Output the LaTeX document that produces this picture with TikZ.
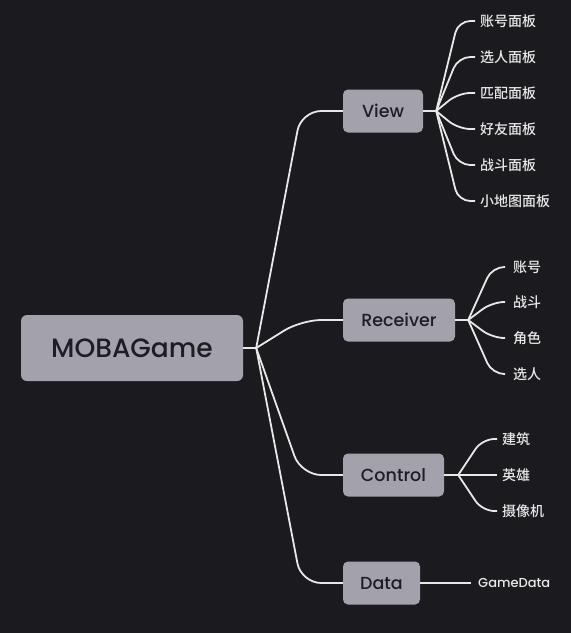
\documentclass[tikz,border=0pt]{standalone}
\usepackage{fontspec}
\setmainfont{Poppins}[UprightFont=* Medium]
\newfontfamily\cjk{Noto Sans CJK SC}[UprightFont=* Medium]
\usetikzlibrary{calc}

\definecolor{canvas}{HTML}{1B1A1F}
\definecolor{topicfill}{HTML}{A3A2AC}
\definecolor{topicink}{HTML}{1E1D24}
\definecolor{wire}{HTML}{E8E8E8}

\begin{document}
\begin{tikzpicture}[x=1pt, y=-1pt,
  every node/.style={inner sep=0pt},
  topic/.style={fill=topicfill, text=topicink, rounded corners=5pt, minimum height=43pt, font=\fontsize{17.5}{20}\selectfont},
  leaf/.style={text=wire, anchor=west, font=\cjk\fontsize{14}{16}\selectfont},
  link/.style={draw=wire, line width=1.8pt, rounded corners=20pt},
  twig/.style={draw=wire, line width=1.8pt, rounded corners=12pt}]
  \fill[canvas] (0,0) rectangle (571,633);
  \useasboundingbox (0,0) rectangle (571,633);

  % central topic and main branches
  \node[topic, minimum width=222pt, minimum height=66pt, rounded corners=6pt, font=\fontsize{26.5}{30}\selectfont] (game) at (132,348) {MOBAGame};
  \node[topic, minimum width=80pt] (view) at (383,111) {View};
  \node[topic, minimum width=112pt] (receiver) at (399,320) {Receiver};
  \node[topic, minimum width=101pt] (control) at (393.5,475) {Control};
  \node[topic, minimum width=77pt] (data) at (381.5,583) {Data};

  \coordinate (hub) at ($(game.east)+(13,0)$);
  \draw[link] (game.east) -- (hub);
  \foreach \t in {view,receiver,control,data}
    \draw[link] (hub) -- ($(\t.west -| hub)+(45,0)$) -- (\t.west);

  % View panels
  \coordinate (viewhub) at ($(view.east)+(13,0)$);
  \draw[twig] (view.east) -- (viewhub);
  \foreach \name/\txt/\y in {vacc/账号面板/21, vpick/选人面板/57, vmatch/匹配面板/93,
                             vfriend/好友面板/129, vbattle/战斗面板/165, vmap/小地图面板/201}
  {
    \node[leaf] (\name) at (480,\y) {\txt};
    \draw[twig] (viewhub) -- ($(\name.west -| viewhub)+(22,0)$) -- ($(\name.west)+(-5,0)$);
  }

  % Receiver items
  \coordinate (recvhub) at ($(receiver.east)+(13,0)$);
  \draw[twig] (receiver.east) -- (recvhub);
  \foreach \name/\txt/\y in {racc/账号/267, rbattle/战斗/302, rrole/角色/338, rpick/选人/374}
  {
    \node[leaf] (\name) at (513,\y) {\txt};
    \draw[twig] (recvhub) -- ($(\name.west -| recvhub)+(24,0)$) -- ($(\name.west)+(-8,0)$);
  }

  % Control items
  \coordinate (ctrlhub) at ($(control.east)+(14,0)$);
  \draw[twig] (control.east) -- (ctrlhub);
  \foreach \name/\txt/\y in {cbuild/建筑/439, chero/英雄/475, ccam/摄像机/511}
  {
    \node[leaf] (\name) at (502,\y) {\txt};
    \draw[twig] (ctrlhub) -- ($(\name.west -| ctrlhub)+(24,0)$) -- ($(\name.west)+(-5,0)$);
  }

  % Data item
  \node[leaf, font=\fontsize{13}{15}\selectfont] (gamedata) at (478,583) {GameData};
  \draw[twig] (data.east) -- ($(gamedata.west)+(-7,0)$);
\end{tikzpicture}
\end{document}
